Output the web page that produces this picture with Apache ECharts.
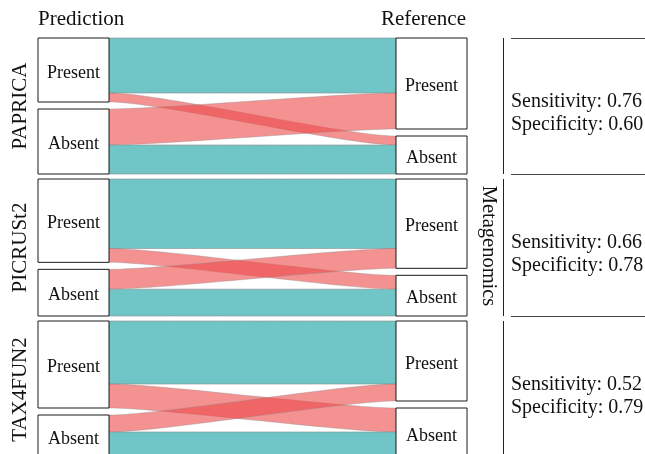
<!DOCTYPE html>
<html>
<head>
<meta charset="utf-8">
<script src="https://cdn.jsdelivr.net/npm/echarts@6/dist/echarts.min.js"></script>
<style>
  html, body { margin: 0; padding: 0; background: #fff; }
  #chart { width: 645px; height: 454px; }
</style>
</head>
<body>
<div id="chart"></div>
<script>
var methods = ['PAPRICA', 'PICRUSt2', 'TAX4FUN2'];
// prediction -> reference counts
var presentToPresent = [55, 70, 63];
var presentToAbsent = [9, 14, 24];
var absentToPresent = [36, 20, 17];
var absentToAbsent = [29, 27, 26];
var sensitivity = ['0.76', '0.66', '0.52'];
var specificity = ['0.60', '0.78', '0.79'];
var stateLabels = ['Present', 'Absent'];

var panelTop = [38, 179, 321];
var panelHeight = [136, 137, 137];
var fontFamily = 'Liberation Serif';
var teal = '#70c6c6';
var red = '#ec4747';

var series = [];
var graphics = [];

methods.forEach(function (m, i) {
    var flows = [
        ['p' + stateLabels[0], 'r' + stateLabels[0], presentToPresent[i], teal, 1],
        ['p' + stateLabels[0], 'r' + stateLabels[1], presentToAbsent[i], red, 0.6],
        ['p' + stateLabels[1], 'r' + stateLabels[0], absentToPresent[i], red, 0.6],
        ['p' + stateLabels[1], 'r' + stateLabels[1], absentToAbsent[i], teal, 1]
    ];
    series.push({
        type: 'sankey',
        left: 38,
        right: 178,
        top: panelTop[i],
        height: panelHeight[i],
        nodeWidth: 71,
        nodeGap: 7,
        layoutIterations: 0,
        draggable: false,
        silent: true,
        emphasis: { disabled: true },
        label: {
            position: 'inside',
            offset: [0, 3],
            color: '#111',
            fontFamily: fontFamily,
            fontSize: 18
        },
        itemStyle: { color: '#fff', borderColor: '#1a1a1a', borderWidth: 1 },
        lineStyle: { curveness: 0.18, borderColor: '#8a8a8a', borderWidth: 0.6 },
        data: [
            { name: 'pPresent', label: { formatter: 'Present' } },
            { name: 'pAbsent', label: { formatter: 'Absent' } },
            { name: 'rPresent', label: { formatter: 'Present' } },
            { name: 'rAbsent', label: { formatter: 'Absent' } }
        ],
        links: flows.map(function (f) {
            return {
                source: f[0], target: f[1], value: f[2],
                lineStyle: { color: f[3], opacity: f[4] }
            };
        })
    });

    var cy = panelTop[i] + panelHeight[i] / 2;
    // method label on the left
    graphics.push({
        type: 'text', x: 20, y: cy, rotation: Math.PI / 2,
        style: { text: m, font: '21px ' + fontFamily, fill: '#111', align: 'center', verticalAlign: 'middle' }
    });
    // strip line
    graphics.push({
        type: 'line', shape: { x1: 503.5, y1: panelTop[i], x2: 503.5, y2: panelTop[i] + panelHeight[i] },
        style: { stroke: '#222', lineWidth: 1 }
    });
    // stats
    graphics.push({
        type: 'text', x: 511, y: cy + 7,
        style: {
            text: 'Sensitivity: ' + sensitivity[i] + '\nSpecificity: ' + specificity[i],
            font: '20px ' + fontFamily, fill: '#111', verticalAlign: 'middle', lineHeight: 23
        }
    });
});

[38, 174, 316].forEach(function (y) {
    graphics.push({
        type: 'line', shape: { x1: 511, y1: y + 0.5, x2: 645, y2: y + 0.5 },
        style: { stroke: '#444', lineWidth: 1 }
    });
});

graphics.push({
    type: 'text', x: 38, y: 19,
    style: { text: 'Prediction', font: '21px ' + fontFamily, fill: '#111', verticalAlign: 'middle' }
});
graphics.push({
    type: 'text', x: 466, y: 19,
    style: { text: 'Reference', font: '21px ' + fontFamily, fill: '#111', align: 'right', verticalAlign: 'middle' }
});
graphics.push({
    type: 'text', x: 488, y: 246, rotation: -Math.PI / 2,
    style: { text: 'Metagenomics', font: '20.5px ' + fontFamily, fill: '#111', align: 'center', verticalAlign: 'middle' }
});

var myChart = echarts.init(document.getElementById('chart'));
myChart.setOption({
    animation: false,
    series: series,
    graphic: graphics
});
</script>
</body>
</html>
